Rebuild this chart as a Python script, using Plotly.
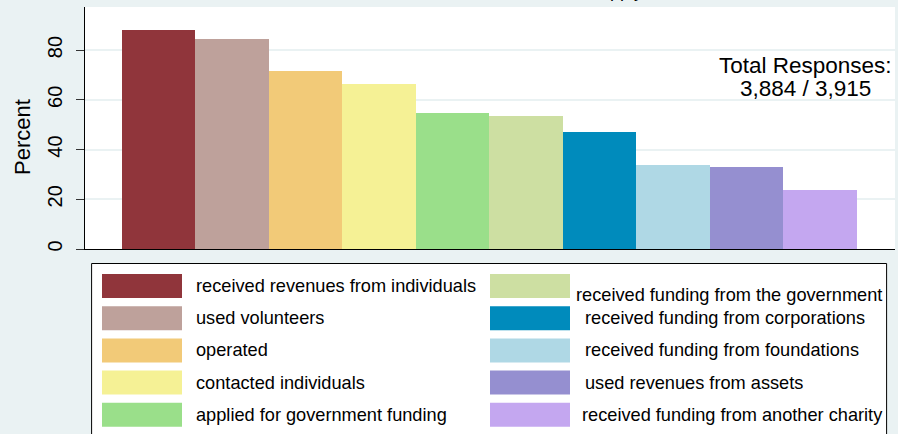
import plotly.graph_objects as go

# --- Data ---
labels = [
    "received revenues from individuals",
    "used volunteers",
    "operated",
    "contacted individuals",
    "applied for government funding",
    "received funding from the government",
    "received funding from corporations",
    "received funding from foundations",
    "used revenues from assets",
    "received funding from another charity",
]
percent = [88.0, 84.3, 71.6, 66.3, 54.7, 53.6, 47.2, 33.8, 33.0, 23.7]
colors = [
    "#90353B", "#BEA19B", "#F2CA78", "#F5F195", "#9ADF8A",
    "#CDDFA2", "#008BBC", "#AFD8E5", "#958FD0", "#C4A7F0",
]
y_ticks = [0, 20, 40, 60, 80]
total_lines = ["Total Responses:", "3,884 / 3,915"]
title_tail = "apply"

FONT = "Liberation Sans, Arial, Helvetica, sans-serif"
BG = "#EAF2F3"

# plot area in pixels
W, H = 898, 434
L, R, T, B = 85, 895, 7, 249


def px(x):
    return (x - L) / (R - L)


def py(y):
    return (B - y) / (B - T)


fig = go.Figure()

fig.add_trace(
    go.Bar(
        x=list(range(len(percent))),
        y=percent,
        width=1,
        marker=dict(color=colors, line=dict(width=0)),
        showlegend=False,
    )
)

# --- Hand-drawn legend box (Stata style, 2 columns x 5 rows) ---
shapes = [
    dict(type="rect", xref="paper", yref="paper",
         x0=px(91.6), x1=px(886.6), y0=py(263.5), y1=py(450),
         line=dict(color="black", width=1), fillcolor="white", layer="above")
]
annotations = []
for i, (lab, col) in enumerate(zip(labels, colors)):
    c, r = divmod(i, 5)
    sx = 102 if c == 0 else 490
    sy = 274 + r * 32.2
    shapes.append(dict(type="rect", xref="paper", yref="paper",
                       x0=px(sx), x1=px(sx + 80), y0=py(sy), y1=py(sy + 24),
                       line=dict(width=0), fillcolor=col, layer="above"))
    tx = 194 if c == 0 else 583
    ty = sy + 12
    if i == 5:
        tx, ty = 574, ty + 9
    elif i == 9:
        tx = 580
    annotations.append(dict(xref="paper", yref="paper", x=px(tx), y=py(ty),
                            text=lab, showarrow=False, xanchor="left",
                            yanchor="middle", font=dict(size=18.2, color="black")))

# --- "Total Responses" note ---
for k, line in enumerate(total_lines):
    annotations.append(dict(xref="paper", yref="paper", x=px(805), y=py(65 + 23 * k),
                            text=line, showarrow=False, xanchor="center",
                            yanchor="middle", borderpad=0,
                            font=dict(size=22.5, color="black")))

# y-axis title
annotations.append(dict(xref="paper", yref="paper", x=px(22), y=py(137),
                        text="Percent", textangle=-90, showarrow=False,
                        xanchor="center", yanchor="middle",
                        font=dict(size=22, color="black")))

# title, cut off at the top of the image
annotations.append(dict(xref="paper", yref="paper", x=px(645), y=py(3),
                        text=title_tail, showarrow=False, xanchor="right",
                        yanchor="bottom", font=dict(size=18, color="black")))

fig.update_layout(
    width=W, height=H,
    margin=dict(l=L, r=W - R, t=T, b=H - B, pad=0),
    paper_bgcolor=BG,
    plot_bgcolor="white",
    font=dict(family=FONT, color="black"),
    bargap=0,
    shapes=shapes,
    annotations=annotations,
    xaxis=dict(range=[-1.0, 10.02], showticklabels=False, ticks="",
               showgrid=False, zeroline=False, showline=True,
               linecolor="black", linewidth=1, fixedrange=True),
    yaxis=dict(range=[0, 97.3], tickvals=y_ticks, tickangle=-90,
               ticks="outside", ticklen=8, tickcolor="#333", tickwidth=1,
               ticklabelstandoff=6,
               tickfont=dict(size=20, color="black"),
               showgrid=True, gridcolor=BG, gridwidth=2, zeroline=False,
               showline=True, linecolor="black", linewidth=1, fixedrange=True),
)

# drop the browser's default page margin so the figure sits at (0, 0)
fig.write_html(
    "out.html",
    config={"displayModeBar": False},
    post_script="document.body.style.margin='0';document.body.style.overflow='hidden';",
)
